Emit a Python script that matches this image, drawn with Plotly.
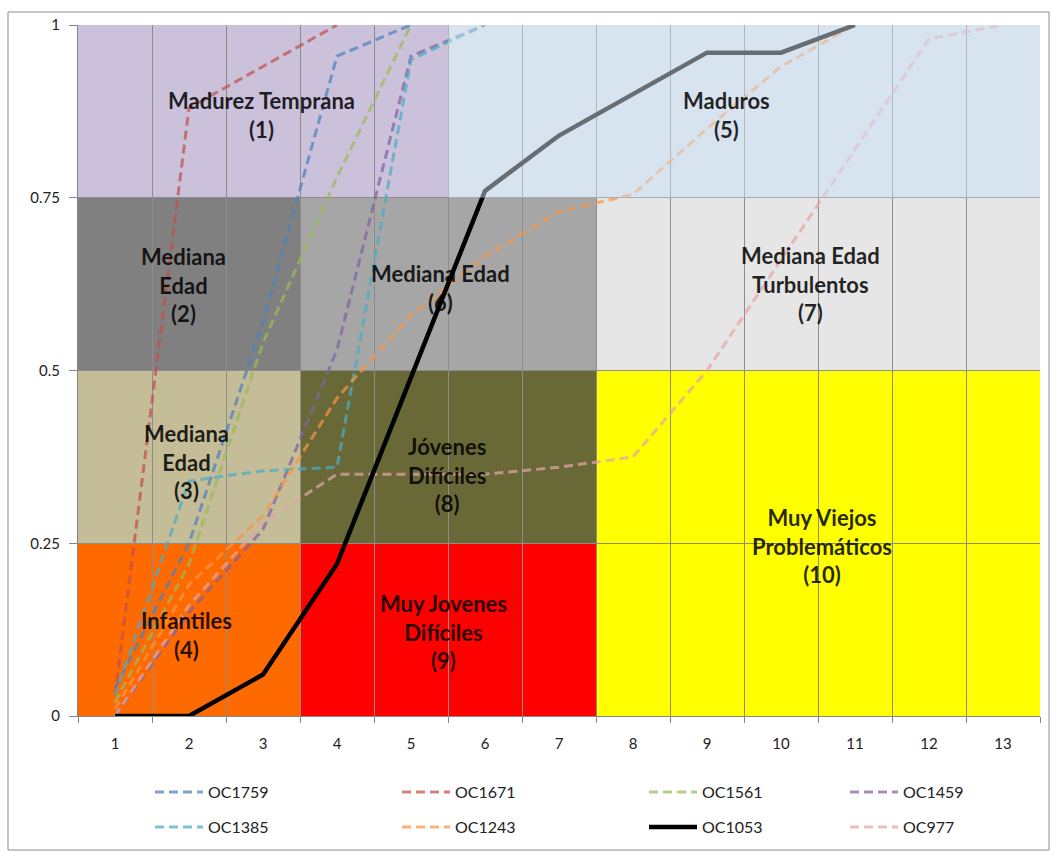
import plotly.graph_objects as go

# ---------------- data ----------------
categories = list(range(1, 14))
tick_labels = [str(c) for c in categories]

oc1759 = [0.04, 0.25, 0.57, 0.955, 1.0]
oc1671 = [0.03, 0.88, 0.94, 1.0]
oc1561 = [0.02, 0.22, 0.54, 0.78, 1.0]
oc1459 = [0.00, 0.15, 0.27, 0.53, 0.955, 1.0]
oc1385 = [0.03, 0.34, 0.355, 0.36, 0.95, 1.0]
oc1243 = [0.01, 0.19, 0.29, 0.46, 0.58, 0.665, 0.73, 0.755, 0.85, 0.94, 1.0]
oc1053 = [0.0, 0.0, 0.06, 0.22, 0.49, 0.76, 0.84, 0.90, 0.96, 0.96, 1.0]
oc977 = [0.0, 0.16, 0.28, 0.35, 0.35, 0.35, 0.36, 0.375, 0.50, 0.66, 0.82, 0.98, 1.0]

series_names = ["OC1759", "OC1671", "OC1561", "OC1459", "OC1385", "OC1243", "OC1053", "OC977"]
series_values = [oc1759, oc1671, oc1561, oc1459, oc1385, oc1243, oc1053, oc977]

y_ticks = [0, 0.25, 0.5, 0.75, 1]
y_tick_labels = ["0", "0.25", "0.5", "0.75", "1"]

# background regions: label, x-range (category bounds), y-range
region_labels = [
    "Madurez Temprana<br>(1)", "Maduros<br>(5)",
    "Mediana<br>Edad<br>(2)", "Mediana Edad<br>(6)", "Mediana Edad<br>Turbulentos<br>(7)",
    "Mediana<br>Edad<br>(3)", "Jóvenes<br>Difíciles<br>(8)",
    "Infantiles<br>(4)", "Muy Jovenes<br>Difíciles<br>(9)", "Muy Viejos<br>Problemáticos<br>(10)",
]
region_x = [(0.5, 5.5), (5.5, 13.5),
            (0.5, 3.5), (3.5, 7.5), (7.5, 13.5),
            (0.5, 3.5), (3.5, 7.5),
            (0.5, 3.5), (3.5, 7.5), (7.5, 13.5)]
region_y = [(0.75, 1.0), (0.75, 1.0),
            (0.5, 0.75), (0.5, 0.75), (0.5, 0.75),
            (0.25, 0.5), (0.25, 0.5),
            (0.0, 0.25), (0.0, 0.25), (0.0, 0.5)]

# ---------------- styling ----------------
region_colors = ["#CCC1DA", "#D8E3F0",
                 "#808080", "#A6A6A6", "#E6E6E6",
                 "#C4BD97", "#696938",
                 "#FF6A00", "#FF0000", "#FFFF00"]
# translucent veil drawn over the lines (only the "Maduros" zone greys the black line)
region_veil = [0, 0.48, 0, 0, 0, 0, 0, 0, 0, 0]
label_pos = [(2.98, 0.87), (9.26, 0.87),
             (1.92, 0.624), (5.40, 0.619), (10.40, 0.625),
             (1.96, 0.368), (5.49, 0.349),
             (1.96, 0.117), (5.44, 0.122), (10.55, 0.246)]
line_colors = ["#4F81BD", "#C0504D", "#9BBB59", "#8064A2", "#4BACC6", "#F79646", "#000000", "#E6A5A4"]

# legend entry positions (pixels in the 1052x851 figure): symbol left edge, row centre
legend_px = [(158, 792), (405, 792), (652, 792), (853, 792),
             (158, 827), (405, 827), (652, 827), (853, 827)]

W, H = 1052, 851
FONT = "Lato"

fig = go.Figure()

legend_layouts = {}
traces_dashed, traces_solid = [], []
for i, (name, vals, col) in enumerate(zip(series_names, series_values, line_colors)):
    xs = categories[:len(vals)]
    lg = "legend" if i == 0 else "legend%d" % (i + 1)
    lx, ly = legend_px[i]
    legend_layouts[lg] = dict(
        xref="container", yref="container", x=(lx - 8) / W, xanchor="left",
        y=1 - ly / H, yanchor="middle", orientation="h", itemwidth=48,
        font=dict(family=FONT, size=16, color="#222222"), bgcolor="rgba(0,0,0,0)",
        borderwidth=0)
    if name == "OC1053":
        traces_solid.append(go.Scatter(x=xs, y=vals, name=name, mode="lines", legend=lg,
                                       line=dict(color=col, width=4.5)))
    else:
        traces_dashed.append(go.Scatter(x=xs, y=vals, name=name, mode="lines", opacity=0.72,
                                        legend=lg, line=dict(color=col, width=3, dash="9px,5px")))

for t in traces_dashed + traces_solid:
    fig.add_trace(t)

shapes = []
for (x0, x1), (y0, y1), c in zip(region_x, region_y, region_colors):
    shapes.append(dict(type="rect", xref="x", yref="y", x0=x0, x1=x1, y0=y0, y1=y1,
                       fillcolor=c, line=dict(width=0), layer="below"))
for (x0, x1), (y0, y1), c, v in zip(region_x, region_y, region_colors, region_veil):
    if v > 0:
        shapes.append(dict(type="rect", xref="x", yref="y", x0=x0, x1=x1, y0=y0, y1=y1,
                           fillcolor=c, opacity=v, line=dict(width=0), layer="above"))
# outer chart border
shapes.append(dict(type="rect", xref="paper", yref="paper",
                   x0=(8 - 78) / 962, x1=(1049 - 78) / 962,
                   y0=(716 - 850) / 691, y1=(716 - 12) / 691,
                   line=dict(color="#8C8C8C", width=1), fillcolor="rgba(0,0,0,0)", layer="below"))

annotations = []
for txt, (ax, ay) in zip(region_labels, label_pos):
    annotations.append(dict(x=ax, y=ay, xref="x", yref="y", text="<b>" + txt + "</b>",
                            showarrow=False, align="center",
                            font=dict(family=FONT, size=22, color="rgba(0,0,0,0.85)")))

fig.update_layout(
    width=W, height=H,
    margin=dict(l=78, r=12, t=25, b=135, autoexpand=False),
    paper_bgcolor="white", plot_bgcolor="white",
    shapes=shapes, annotations=annotations,
    font=dict(family=FONT, size=15, color="#222222"),
    showlegend=True,
    **legend_layouts,
)

fig.update_xaxes(range=[0.5, 13.5], tickmode="array", tickvals=categories, ticktext=tick_labels,
                 showgrid=False, zeroline=False, ticks="", showline=True, linecolor="#868686",
                 ticklabelstandoff=14,
                 tickfont=dict(family=FONT, size=15, color="#222222"),
                 minor=dict(tickmode="linear", tick0=0.5, dtick=1, showgrid=True,
                            gridcolor="#8C8C8C", gridwidth=1, ticks="outside", ticklen=6,
                            tickcolor="#868686"))
fig.update_yaxes(range=[0, 1], tickmode="array", tickvals=y_ticks, ticktext=y_tick_labels,
                 showgrid=True, gridcolor="#8C8C8C", gridwidth=1, zeroline=False,
                 ticks="outside", ticklen=8, tickcolor="#868686", ticklabelstandoff=6,
                 showline=True, linecolor="#868686",
                 tickfont=dict(family=FONT, size=15, color="#222222"))

fig.write_html("out.html")
